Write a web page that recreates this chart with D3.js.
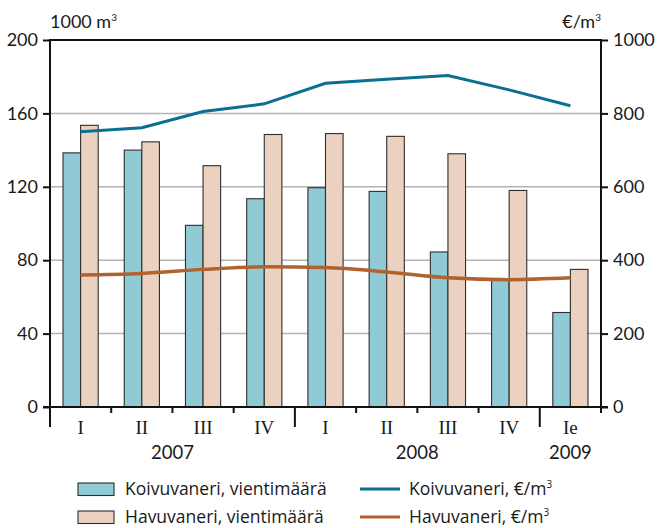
<!DOCTYPE html>
<html>
<head>
<meta charset="utf-8">
<script src="https://cdn.jsdelivr.net/npm/d3@7"></script>
<style>
  body { margin: 0; background: #fff; }
  text { font-family: Lato, "Noto Sans", sans-serif; fill: #1a1a1a; }
  .roman { font-family: "Liberation Serif", "DejaVu Serif", serif; }
  .legend text { font-family: "Open Sans", Lato, sans-serif; }
</style>
</head>
<body>
<div id="chart"></div>
<script>
// quarters and years
const quarters = ['I', 'II', 'III', 'IV', 'I', 'II', 'III', 'IV', 'Ie'];
const years = [{label: '2007', from: 0, to: 4}, {label: '2008', from: 4, to: 8}, {label: '2009', from: 8, to: 9}];

// export volume, 1000 m3 (left axis)
const koivuVolume = [138.5, 140, 99, 113.5, 119.5, 117.5, 84.5, 70, 51.5];
const havuVolume = [153.5, 144.5, 131.5, 148.5, 149, 147.5, 138, 118, 75];

// price, €/m3 (right axis)
const koivuPrice = [750, 761, 805, 826, 882, 893, 903, 864, 821];
const havuPrice = [360, 364, 375, 382, 380, 368, 352, 347, 352];

const leftTicks = [0, 40, 80, 120, 160, 200];
const rightTicks = [0, 200, 400, 600, 800, 1000];

const width = 657, height = 528;
const margin = {left: 50, right: 56, top: 40, bottom: 121};
const x0 = margin.left, x1 = width - margin.right;
const yTop = margin.top, yBot = height - margin.bottom;

const colors = {
  koivuBar: '#90cad4', havuBar: '#ebd2c0',
  koivuLine: '#0b6f8f', havuLine: '#b1622f'
};

const svg = d3.select('#chart').append('svg')
  .attr('width', width)
  .attr('height', height);

const x = d3.scaleBand()
  .domain(d3.range(quarters.length))
  .range([x0, x1])
  .paddingInner(0)
  .paddingOuter(0);

const xSub = d3.scaleBand()
  .domain(['koivu', 'havu'])
  .range([0, x.bandwidth()])
  .paddingOuter(0.74)
  .paddingInner(0);

const yL = d3.scaleLinear().domain([0, 200]).range([yBot, yTop]);
const yR = d3.scaleLinear().domain([0, 1000]).range([yBot, yTop]);

// grid lines
svg.append('g')
  .selectAll('line')
  .data(leftTicks.filter(d => d > 0 && d < 200))
  .enter().append('line')
    .attr('x1', x0).attr('x2', x1)
    .attr('y1', d => yL(d)).attr('y2', d => yL(d))
    .attr('stroke', '#b3b3b3')
    .attr('stroke-width', 1.5);

// bars
const groups = svg.append('g')
  .selectAll('g')
  .data(quarters.map((q, i) => ({i, koivu: koivuVolume[i], havu: havuVolume[i]})))
  .enter().append('g')
    .attr('transform', d => `translate(${x(d.i)},0)`);

groups.selectAll('rect')
  .data(d => [{k: 'koivu', v: d.koivu}, {k: 'havu', v: d.havu}])
  .enter().append('rect')
    .attr('x', d => xSub(d.k))
    .attr('y', d => yL(d.v))
    .attr('width', xSub.bandwidth())
    .attr('height', d => yBot - yL(d.v))
    .attr('fill', d => d.k === 'koivu' ? colors.koivuBar : colors.havuBar)
    .attr('stroke', '#2e2e2e')
    .attr('stroke-width', 1.1);

// price lines
const cx = i => x(i) + x.bandwidth() / 2;
const line = d3.line()
  .x((d, i) => cx(i))
  .y(d => yR(d));

svg.append('path')
  .datum(koivuPrice)
  .attr('d', line)
  .attr('fill', 'none')
  .attr('stroke', colors.koivuLine)
  .attr('stroke-width', 3);

svg.append('path')
  .datum(havuPrice)
  .attr('d', line.curve(d3.curveMonotoneX))
  .attr('fill', 'none')
  .attr('stroke', colors.havuLine)
  .attr('stroke-width', 3.5);

// frame: top line
svg.append('line')
  .attr('x1', x0).attr('x2', x1)
  .attr('y1', yTop).attr('y2', yTop)
  .attr('stroke', '#111').attr('stroke-width', 2);

// left axis
const leftAxis = d3.axisLeft(yL).tickValues(leftTicks).tickFormat(d3.format('d')).tickSize(7).tickPadding(5);
const gL = svg.append('g')
  .attr('transform', `translate(${x0},0)`)
  .call(leftAxis);
gL.select('.domain').remove();
gL.selectAll('line').attr('stroke', '#111').attr('stroke-width', 2);
gL.selectAll('text').attr('font-size', 18).style('font-family', 'Lato, "Noto Sans", sans-serif').attr('fill', '#1a1a1a');
svg.append('line')
  .attr('x1', x0).attr('x2', x0)
  .attr('y1', yTop - 1).attr('y2', yBot + 20)
  .attr('stroke', '#111').attr('stroke-width', 2);

// right axis
const rightAxis = d3.axisRight(yR).tickValues(rightTicks).tickFormat(d3.format('d')).tickSize(7).tickPadding(5);
const gR = svg.append('g')
  .attr('transform', `translate(${x1},0)`)
  .call(rightAxis);
gR.select('.domain').remove();
gR.selectAll('line').attr('stroke', '#111').attr('stroke-width', 2);
gR.selectAll('text').attr('font-size', 18).style('font-family', 'Lato, "Noto Sans", sans-serif').attr('fill', '#1a1a1a');
svg.append('line')
  .attr('x1', x1).attr('x2', x1)
  .attr('y1', yTop - 1).attr('y2', yBot + 6)
  .attr('stroke', '#111').attr('stroke-width', 2);

// bottom axis
svg.append('line')
  .attr('x1', x0 - 7).attr('x2', x1 + 7)
  .attr('y1', yBot).attr('y2', yBot)
  .attr('stroke', '#111').attr('stroke-width', 2);

const yearStarts = years.map(d => d.from).filter(d => d > 0);
svg.append('g')
  .selectAll('line')
  .data(d3.range(1, quarters.length))
  .enter().append('line')
    .attr('x1', d => x(d)).attr('x2', d => x(d))
    .attr('y1', yBot)
    .attr('y2', d => yearStarts.includes(d) ? yBot + 20 : yBot + 6)
    .attr('stroke', '#111').attr('stroke-width', 2);

svg.append('g')
  .selectAll('text')
  .data(quarters)
  .enter().append('text')
    .attr('class', 'roman')
    .attr('x', (d, i) => cx(i))
    .attr('y', yBot + 27)
    .attr('text-anchor', 'middle')
    .attr('font-size', 19)
    .text(d => d);

svg.append('g')
  .selectAll('text')
  .data(years)
  .enter().append('text')
    .attr('x', d => (x(d.from) + x(d.to - 1) + x.bandwidth()) / 2)
    .attr('y', yBot + 52)
    .attr('text-anchor', 'middle')
    .attr('font-size', 18.5)
    .text(d => d.label);

// unit labels
svg.append('text')
  .attr('x', x0).attr('y', 28)
  .attr('font-size', 18)
  .html('1000 m<tspan font-size="10" dy="-7">3</tspan>');

svg.append('text')
  .attr('x', x1).attr('y', 28)
  .attr('text-anchor', 'end')
  .attr('font-size', 18)
  .html('€/m<tspan font-size="10" dy="-7">3</tspan>');

// legend
const legendBars = [
  {label: 'Koivuvaneri, vientimäärä', color: colors.koivuBar},
  {label: 'Havuvaneri, vientimäärä', color: colors.havuBar}
];
const legendLines = [
  {label: 'Koivuvaneri, €/m', color: colors.koivuLine},
  {label: 'Havuvaneri, €/m', color: colors.havuLine}
];
const rowY = [489, 517];

const legend = svg.append('g').attr('class', 'legend');

const lb = legend.append('g').selectAll('g')
  .data(legendBars)
  .enter().append('g')
    .attr('transform', (d, i) => `translate(0,${rowY[i]})`);
lb.append('rect')
  .attr('x', 78).attr('y', -6).attr('width', 36).attr('height', 12.5)
  .attr('fill', d => d.color)
  .attr('stroke', '#2e2e2e').attr('stroke-width', 1.1);
lb.append('text')
  .attr('x', 125).attr('y', 6)
  .attr('font-size', 17.5)
  .text(d => d.label);

const ll = legend.append('g').selectAll('g')
  .data(legendLines)
  .enter().append('g')
    .attr('transform', (d, i) => `translate(0,${rowY[i]})`);
ll.append('line')
  .attr('x1', 360).attr('x2', 400)
  .attr('y1', 0).attr('y2', 0)
  .attr('stroke', d => d.color).attr('stroke-width', 3);
ll.append('text')
  .attr('x', 409).attr('y', 6)
  .attr('font-size', 17.5)
  .html(d => d.label + '<tspan font-size="10" dy="-7">3</tspan>');
</script>
</body>
</html>
